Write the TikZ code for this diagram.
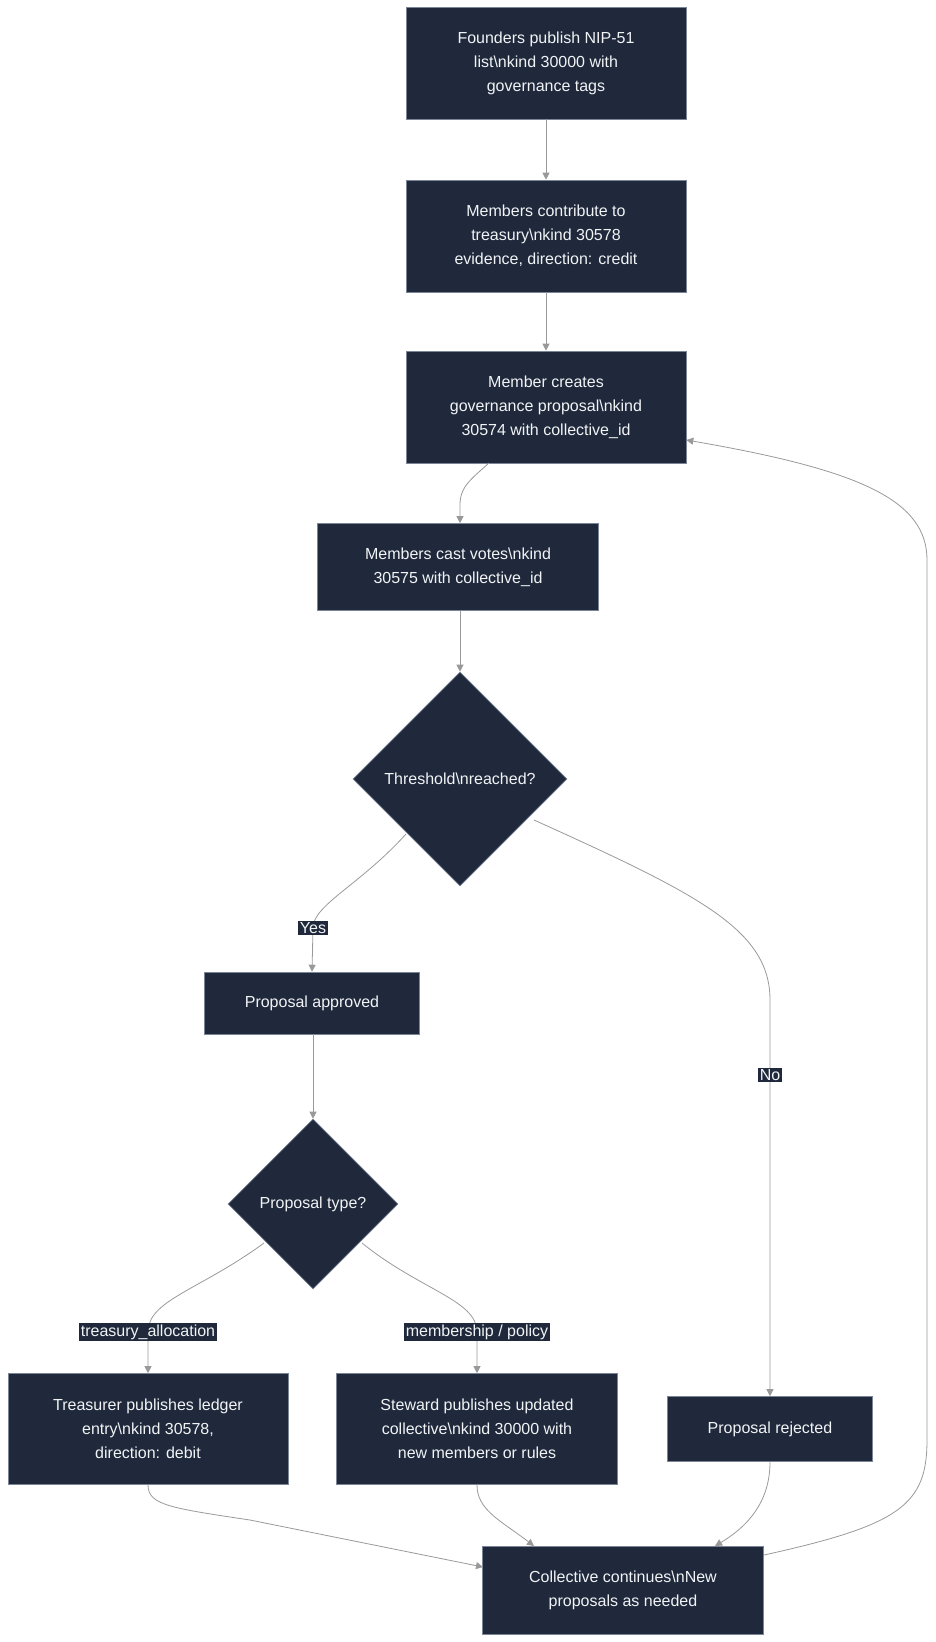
\documentclass[tikz,border=0pt]{standalone}
\usepackage{fontspec}
\setmainfont{Liberation Sans}
\usetikzlibrary{shapes.geometric,arrows.meta}
\definecolor{nodefill}{HTML}{1F293B}
\definecolor{nodeline}{HTML}{7A8597}
\definecolor{txt}{HTML}{F1F3F5}
\definecolor{edge}{HTML}{999999}
\begin{document}
\begin{tikzpicture}[x=1pt,y=-1pt,
  every node/.style={font=\fontsize{16}{24}\selectfont, text=txt},
  box/.style={draw=nodeline, line width=0.6pt, fill=nodefill, align=center, inner sep=0pt},
  dia/.style={draw=nodeline, line width=0.6pt, fill=nodefill, diamond, aspect=1, inner sep=0pt, align=center},
  elabel/.style={fill=nodefill, inner sep=1.5pt, font=\fontsize{16}{18}\selectfont},
  conn/.style={draw=edge, line width=0.8pt, -{Triangle[length=7pt,width=7pt]}}]
\useasboundingbox (0,0) rectangle (935,1642);
\node[box, minimum width=280, minimum height=112] (n1) at (546,63) {Founders publish NIP-51\\list\textbackslash nkind 30000 with\\governance tags};
\node[box, minimum width=280, minimum height=112] (n2) at (546,236) {Members contribute to\\treasury\textbackslash nkind 30578\\evidence, direction: credit};
\node[box, minimum width=280, minimum height=112] (n3) at (546,407) {Member creates\\governance proposal\textbackslash nkind\\30574 with collective\_id};
\node[box, minimum width=281, minimum height=87] (n4) at (458,567) {Members cast votes\textbackslash nkind\\30575 with collective\_id};
\node[dia, minimum width=214, minimum height=214] (d1) at (460,779) {Threshold\textbackslash nreached?};
\node[box, minimum width=215, minimum height=62] (n5) at (312,1003) {Proposal approved};
\node[dia, minimum width=170, minimum height=170] (d2) at (313,1204) {Proposal type?};
\node[box, minimum width=280, minimum height=111] (n6) at (148,1429) {Treasurer publishes ledger\\entry\textbackslash nkind 30578,\\direction: debit};
\node[box, minimum width=281, minimum height=111] (n7) at (477,1429) {Steward publishes updated\\collective\textbackslash nkind 30000 with\\new members or rules};
\node[box, minimum width=205, minimum height=65] (n8) at (770,1429) {Proposal rejected};
\node[box, minimum width=281, minimum height=88] (n9) at (623,1590) {Collective continues\textbackslash nNew\\proposals as needed};

\coordinate (yesl) at (313,928);
\coordinate (nol) at (770,1075);
\coordinate (tal) at (148,1332);
\coordinate (mpl) at (477,1332);

\draw[conn] (n1) -- (n2);
\draw[conn] (n2) -- (n3);
\draw[conn] (489,463) .. controls (470,480) and (460,487) .. (460,505) -- (n4.north -| d1.north);
\draw[conn] (n4.south -| d1.north) -- (d1.north);
\draw[conn] (406,834) .. controls (360,885) and (313,905) .. (yesl) -- (n5.north);
\draw[conn] (n5.south -| d2.north) -- (d2.north);
\draw[conn] (534,820) .. controls (700,895) and (770,930) .. (770,1000) -- (nol) -- (n8.north);
\draw[conn] (264,1243) .. controls (200,1290) and (148,1300) .. (tal) -- (n6.north);
\draw[conn] (362,1243) .. controls (420,1290) and (477,1300) .. (mpl) -- (n7.north);
\draw[conn] (n6.south) .. controls (148,1505) and (170,1508) .. (250,1520) -- (483,1567);
\draw[conn] (n7.south) .. controls (477,1510) and (500,1520) .. (534,1546);
\draw[conn] (n8.south) .. controls (770,1500) and (750,1525) .. (715,1546);
\draw[conn] (764,1555) .. controls (900,1525) and (927,1505) .. (927,1440) -- (927,560) .. controls (927,500) and (860,470) .. (n3.east |- 0,440);

\node[elabel] at (yesl) {Yes};
\node[elabel] at (nol) {No};
\node[elabel] at (tal) {treasury\_allocation};
\node[elabel] at (mpl) {membership / policy};
\end{tikzpicture}
\end{document}
